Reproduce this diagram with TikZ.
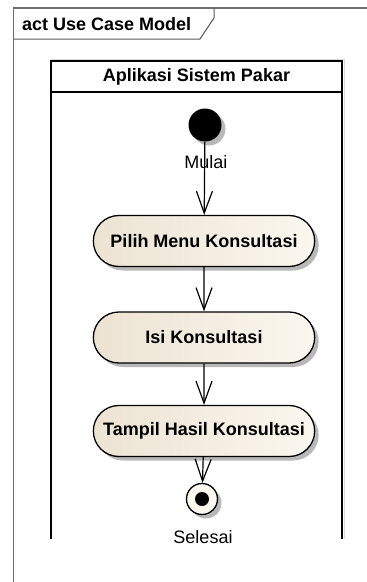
\documentclass[tikz,border=0pt]{standalone}
\usepackage{fontspec}
\setmainfont{Liberation Sans}
\usetikzlibrary{arrows.meta,shapes.misc,shadows}
\definecolor{beigeL}{RGB}{236,227,210}
\definecolor{beigeR}{RGB}{251,247,239}
\definecolor{framegray}{RGB}{110,110,110}
\begin{document}
\begin{tikzpicture}[x=1pt,y=-1pt,
  shad/.style={drop shadow={shadow xshift=4pt,shadow yshift=-4pt,fill=black!28,opacity=1}},
  act/.style={rounded rectangle, draw=black, line width=1.3pt, minimum width=228pt,
    minimum height=51pt, left color=beigeL, right color=beigeR, shad,
    font=\fontsize{18}{21}\selectfont\bfseries},
  flow/.style={draw=black, line width=1.2pt,
    -{Straight Barb[length=22pt,width=16pt,line width=1.2pt]}},
  lbl/.style={font=\fontsize{18}{21}\selectfont, inner sep=0pt},
  hdr/.style={font=\fontsize{18}{21}\selectfont\bfseries, inner sep=0pt}]
\useasboundingbox (0,0) rectangle (367,582);
% outer frame
\draw[framegray, line width=1.6pt] (367,8) -- (13.5,8) -- (13.5,582);
\draw[framegray!80!black, line width=1pt] (13.5,39) -- (200,39) -- (214,18) -- (214,8);
\node[hdr, anchor=west] (title) at (22,24) {act Use Case Model};
% swimlane
\draw[black!15, line width=1pt] (51,59) -- (344,59) -- (344,539);
\draw[black, line width=2pt] (51,539) -- (51,61) -- (342,61) -- (342,539);
\draw[black, line width=1.5pt] (51,92) -- (342,92);
\node[hdr] (lane) at (196.5,76.5) {Aplikasi Sistem Pakar};
% nodes
\node[circle, fill=black, minimum size=33pt, inner sep=0pt, shad] (start) at (205,125) {};
\node[lbl] (mulai) at (206,162) {Mulai};
\node[act] (pilih) at (204,241) {Pilih Menu Konsultasi};
\node[act] (isi) at (204,337.5) {Isi Konsultasi};
\node[act] (tampil) at (204,431) {Tampil Hasil Konsultasi};
\node[circle, draw=black, line width=1.3pt, fill=beigeR, minimum size=31pt, inner sep=0pt, shad] (end) at (202,499) {};
\node[circle, fill=black, minimum size=14pt, inner sep=0pt] (enddot) at (end.center) {};
\node[lbl] (selesai) at (203,537) {Selesai};
% connectors
\draw[flow] (start) -- (pilih);
\draw[flow] (pilih) -- (isi);
\draw[flow] (isi) -- (tampil);
\draw[flow] (tampil) -- (end);
\end{tikzpicture}
\end{document}
